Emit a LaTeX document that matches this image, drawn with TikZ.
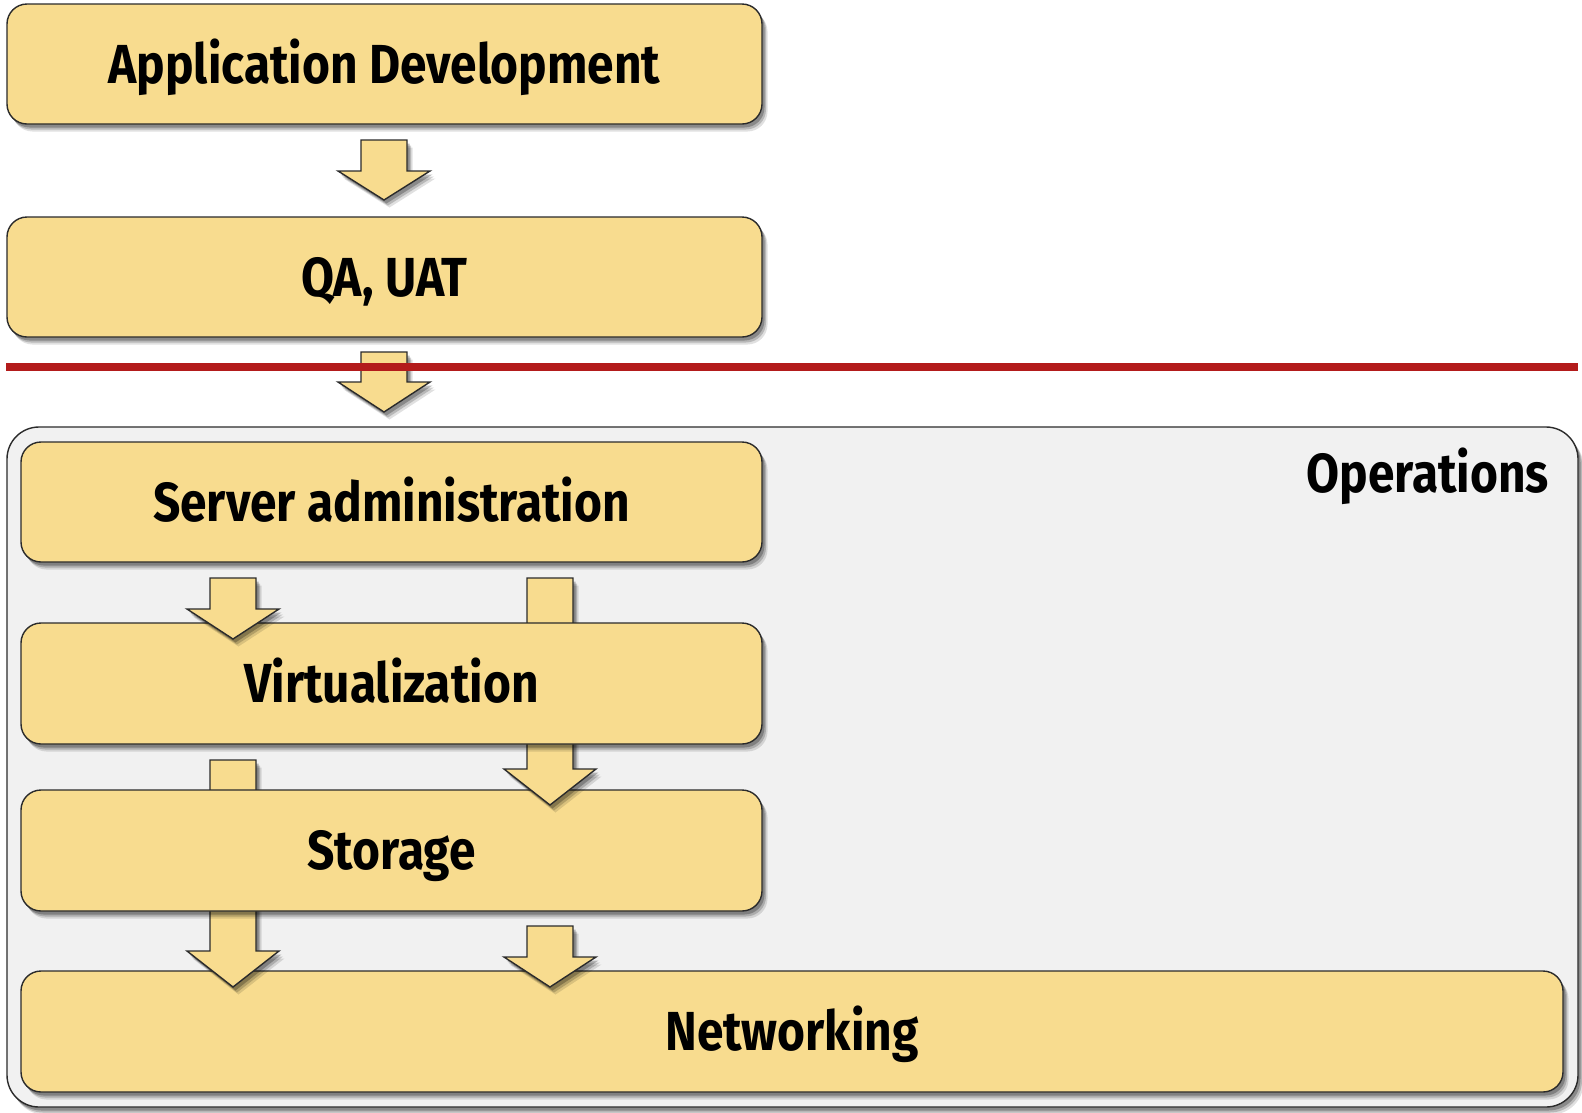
\documentclass[tikz,border=0pt]{standalone}
\usepackage{fontspec}
\newfontfamily\dinfont{Fira Sans}[FakeStretch=0.87]
\usetikzlibrary{shadows}
\definecolor{boxfill}{HTML}{F8DC8F}
\definecolor{opsfill}{HTML}{F1F1F1}
\definecolor{redline}{HTML}{B31B1B}
\definecolor{edgec}{HTML}{2B2B2B}
\tikzset{
  softshadow/.style={
    drop shadow={shadow xshift=5.5pt,shadow yshift=-7.5pt,opacity=.12,fill=black},
    drop shadow={shadow xshift=4pt,shadow yshift=-5.5pt,opacity=.18,fill=black},
    drop shadow={shadow xshift=2.5pt,shadow yshift=-3.5pt,opacity=.25,fill=black}},
  labelfont/.style={font=\dinfont\bfseries\fontsize{55}{60}\selectfont},
  layerbox/.style={draw=edgec, line width=1.4pt, fill=boxfill, rounded corners=20pt,
    inner sep=0pt, softshadow, labelfont, text height=38pt, text depth=0pt},
  opsbox/.style={draw=edgec, line width=1.4pt, fill=opsfill, rounded corners=32pt,
    inner sep=0pt, softshadow},
  blockarrow/.style={draw=edgec, line width=1.4pt, fill=boxfill, line join=miter, softshadow},
  divider/.style={draw=redline, line width=8pt},
}
% name, centre x, top y, shoulder y, tip y
\newcommand\blockarr[5]{%
  \coordinate (#1-top) at ({#2},{#3});
  \coordinate (#1-tip) at ({#2},{#5});
  \path[blockarrow] ({#2-23},{#3}) -- ({#2+23},{#3}) -- ({#2+23},{#4}) -- ({#2+46},{#4})
     -- (#1-tip) -- ({#2-46},{#4}) -- ({#2-23},{#4}) -- cycle;}
\begin{document}
\begin{tikzpicture}[x=1pt,y=-1pt]
\useasboundingbox[fill=white] (0,0) rectangle (1582,1112);

\node[layerbox, minimum width=755pt, minimum height=120pt] (appdev) at (384.5,64) {Application Development};
\blockarr{a1}{384}{140}{171}{200}
\node[layerbox, minimum width=755pt, minimum height=120pt] (qa) at (384.5,277) {QA, UAT};

\blockarr{a2}{384}{352}{382}{412}
\draw[divider] (6,367) coordinate (divL) -- (1578,367) coordinate (divR);

\node[opsbox, minimum width=1571pt, minimum height=680pt] (ops) at (792.5,767) {};
\node[labelfont, anchor=base east, inner sep=0pt] (opslabel) at (1549,492) {Operations};

\node[layerbox, minimum width=1542pt, minimum height=121pt] (net) at (792,1031.5) {Networking};
\blockarr{a5}{233}{760}{951}{987}
\blockarr{a6}{550}{926}{957}{987}
\node[layerbox, minimum width=741pt, minimum height=121pt] (sto) at (391.5,850.5) {Storage};
\blockarr{a4}{550}{578}{769}{805}
\node[layerbox, minimum width=741pt, minimum height=121pt] (virt) at (391.5,683.5) {Virtualization};
\blockarr{a3}{233}{578}{609}{639}
\node[layerbox, minimum width=741pt, minimum height=120pt] (srv) at (391.5,502) {Server administration};
\end{tikzpicture}
\end{document}
